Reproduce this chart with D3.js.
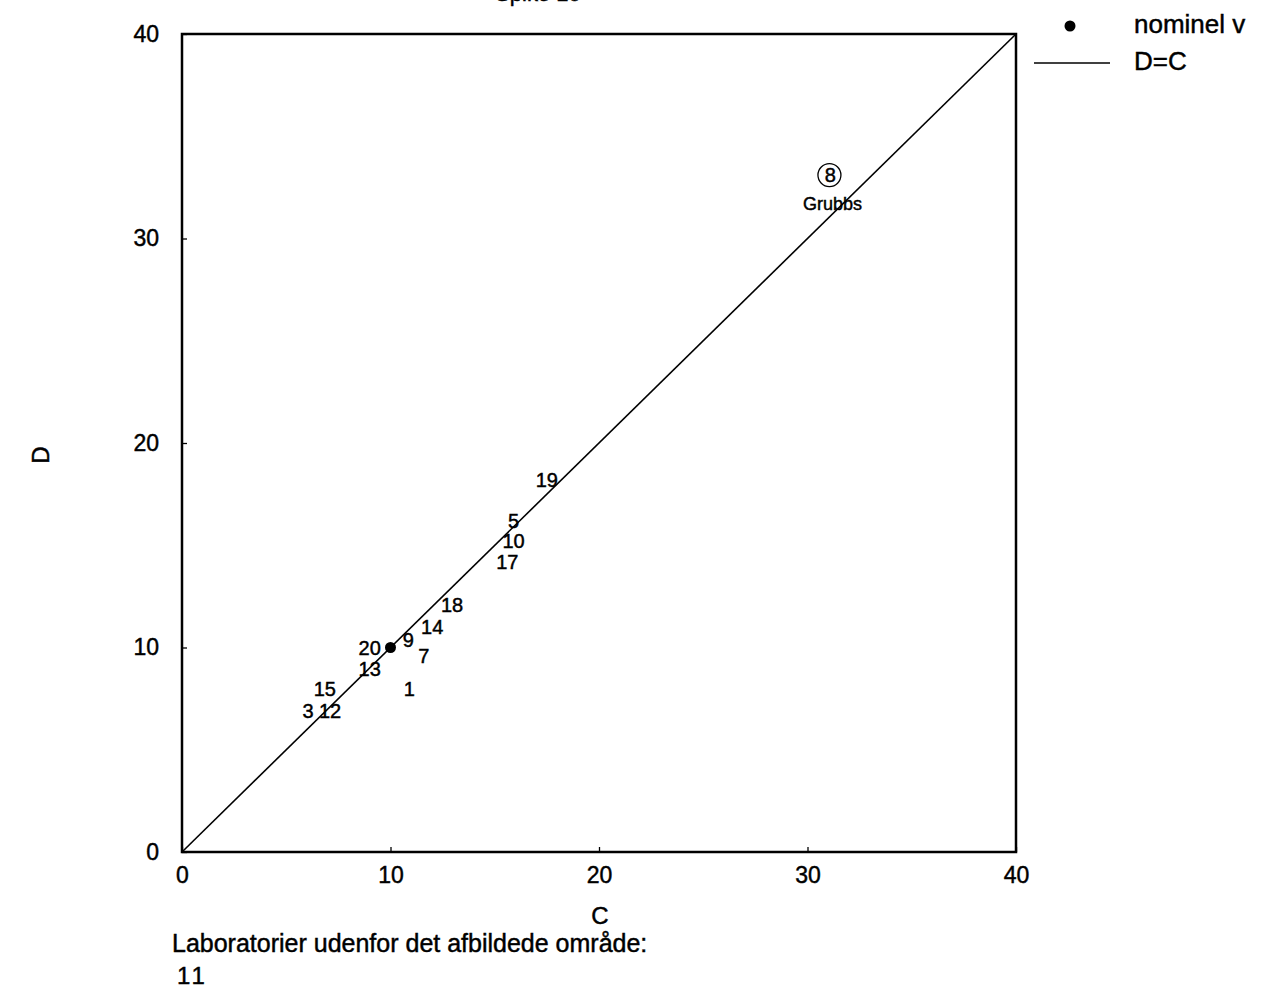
<!DOCTYPE html>
<html>
<head>
<meta charset="utf-8">
<script src="https://cdn.jsdelivr.net/npm/d3@7/dist/d3.min.js"></script>
<style>
  html, body { margin: 0; padding: 0; background: #fff; }
  svg { display: block; font-family: "Liberation Sans", Arial, sans-serif; }
  svg text { fill: #000; stroke: #000; stroke-width: 0.45px; }
</style>
</head>
<body>
<svg id="chart" width="1261" height="991"></svg>
<script>
// Laboratory results: C and D measurements per lab
const labs = ["19", "5", "10", "17", "18", "14", "9", "7", "20", "13", "1", "15", "3", "12", "8"];
const cValues = [17.5, 15.9, 15.9, 15.6, 12.95, 12.0, 10.85, 11.6, 9.0, 9.0, 10.9, 6.85, 6.05, 7.1, 31.1];
const dValues = [18.2, 16.2, 15.2, 14.2, 12.1, 11.0, 10.4, 9.6, 10.0, 8.95, 8.0, 8.0, 6.9, 6.9, 33.1];
const grubbsLabs = ["8"];
const nominal = [10, 10];
const tickValues = [0, 10, 20, 30, 40];
const outsideLabs = ["11"];

const svg = d3.select("#chart");
const plotLeft = 182, plotRight = 1016, plotTop = 34, plotBottom = 852;

const x = d3.scaleLinear().domain([0, 40]).range([plotLeft, plotRight]);
const y = d3.scaleLinear().domain([0, 40]).range([plotBottom, plotTop]);

// Title, mostly above the page edge
svg.append("text")
  .attr("x", 538).attr("y", 1)
  .attr("text-anchor", "middle")
  .attr("font-size", 22)
  .text("Spike 10");

// Axes with short inward ticks
const xAxis = svg.append("g")
  .attr("transform", `translate(0,${plotBottom})`)
  .call(d3.axisBottom(x).tickValues(tickValues).tickSize(-5).tickPadding(15));
const yAxis = svg.append("g")
  .attr("transform", `translate(${plotLeft},0)`)
  .call(d3.axisLeft(y).tickValues(tickValues).tickSize(-5).tickPadding(23));
[xAxis, yAxis].forEach(g => {
  g.select(".domain").remove();
  g.selectAll(".tick line").attr("stroke", "#000").attr("stroke-width", 1.3);
  g.selectAll(".tick text")
    .attr("font-size", 23)
    .attr("fill", "#000")
    .attr("font-family", "Liberation Sans, Arial, sans-serif");
});

// Plot frame
svg.append("rect")
  .attr("x", plotLeft).attr("y", plotTop)
  .attr("width", plotRight - plotLeft).attr("height", plotBottom - plotTop)
  .attr("fill", "none").attr("stroke", "#000").attr("stroke-width", 2.5);

// Identity line D=C
svg.append("line")
  .attr("x1", x(0)).attr("y1", y(0))
  .attr("x2", x(40)).attr("y2", y(40))
  .attr("stroke", "#000").attr("stroke-width", 1.6);

// Nominal value
svg.append("circle")
  .attr("cx", x(nominal[0])).attr("cy", y(nominal[1]))
  .attr("r", 5.5).attr("fill", "#000");

// Lab numbers drawn at their (C, D) positions
const points = labs.map((lab, i) => ({ lab, c: cValues[i], d: dValues[i] }));
const labels = svg.append("g").attr("font-size", 20).attr("text-anchor", "middle");
labels.selectAll("text")
  .data(points)
  .join("text")
  .attr("x", p => x(p.c))
  .attr("y", p => y(p.d))
  .attr("dy", "0.36em")
  .text(p => p.lab);

// Grubbs outliers: circled with a note underneath
points.filter(p => grubbsLabs.includes(p.lab)).forEach(p => {
  svg.append("circle")
    .attr("cx", x(p.c) - 1).attr("cy", y(p.d))
    .attr("r", 11.5).attr("fill", "none")
    .attr("stroke", "#000").attr("stroke-width", 1.3);
  svg.append("text")
    .attr("x", x(p.c) + 2).attr("y", y(p.d) + 35)
    .attr("text-anchor", "middle")
    .attr("font-size", 18)
    .text("Grubbs");
});

// Axis titles
svg.append("text")
  .attr("x", 600).attr("y", 924)
  .attr("text-anchor", "middle")
  .attr("font-size", 24)
  .text("C");
svg.append("text")
  .attr("transform", "translate(49,455) rotate(-90)")
  .attr("text-anchor", "middle")
  .attr("font-size", 24)
  .text("D");

// Legend
svg.append("circle").attr("cx", 1070).attr("cy", 26).attr("r", 5.5).attr("fill", "#000");
svg.append("text").attr("x", 1134).attr("y", 33).attr("font-size", 26).text("nominel v");
svg.append("line").attr("x1", 1034).attr("x2", 1110).attr("y1", 63).attr("y2", 63)
  .attr("stroke", "#000").attr("stroke-width", 1.3);
svg.append("text").attr("x", 1134).attr("y", 70).attr("font-size", 26).text("D=C");

// Labs outside the plotted range
svg.append("text")
  .attr("x", 172).attr("y", 952)
  .attr("font-size", 25)
  .text("Laboratorier udenfor det afbildede område:");
svg.append("text")
  .attr("x", 177).attr("y", 984)
  .attr("font-size", 24)
  .attr("letter-spacing", 3)
  .text(outsideLabs.join(" "));
</script>
</body>
</html>
